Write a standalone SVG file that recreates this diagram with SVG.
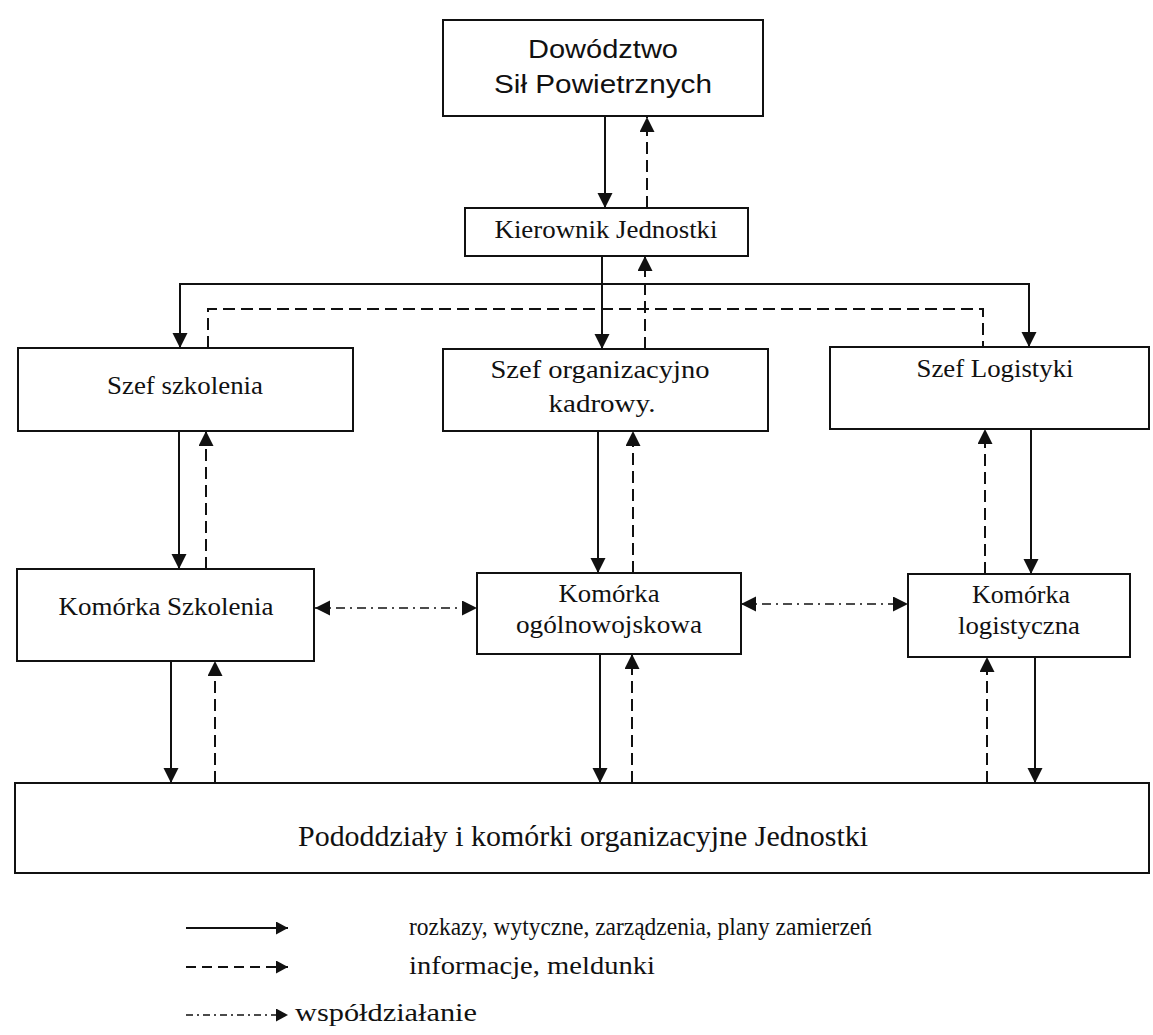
<svg xmlns="http://www.w3.org/2000/svg" width="1153" height="1035" viewBox="0 0 1153 1035">
  <style>
    .box { fill: #fff; stroke: #111; stroke-width: 2; }
    .t { font-family: "Liberation Serif", "Times New Roman", serif; font-size: 26px; fill: #111; text-anchor: middle; }
    .ts { font-family: "Liberation Sans", Arial, sans-serif; font-size: 26px; fill: #111; text-anchor: middle; }
    .tl { font-family: "Liberation Serif", "Times New Roman", serif; font-size: 26px; fill: #111; }
    .solid { fill: none; stroke: #111; stroke-width: 2; }
    .dash { fill: none; stroke: #111; stroke-width: 2; stroke-dasharray: 12 6; }
    .dashdot { fill: none; stroke: #111; stroke-width: 1.6; stroke-dasharray: 9 5 2 5; }
  </style>
  <defs>
    <marker id="arrow" markerUnits="userSpaceOnUse" markerWidth="16" markerHeight="16" refX="15" refY="7.5" orient="auto-start-reverse">
      <path d="M0,0 L15,7.5 L0,15 Z" fill="#111"/>
    </marker>
    <marker id="arrowSmall" markerUnits="userSpaceOnUse" markerWidth="13" markerHeight="14" refX="12" refY="6.5" orient="auto">
      <path d="M0,0 L12,6.5 L0,13 Z" fill="#111"/>
    </marker>
  </defs>
  <rect width="1153" height="1035" fill="#fff"/>

  <!-- connectors -->
  <g id="connectors">
    <!-- Dowództwo <-> Kierownik -->
    <line class="solid" x1="605" y1="117" x2="605" y2="208" marker-end="url(#arrow)"/>
    <line class="dash" x1="647" y1="208" x2="647" y2="117" marker-end="url(#arrow)"/>
    <!-- Kierownik -> Szef organizacyjno-kadrowy -->
    <line class="solid" x1="602" y1="256" x2="602" y2="349" marker-end="url(#arrow)"/>
    <line class="dash" x1="645" y1="349" x2="645" y2="256" marker-end="url(#arrow)"/>
    <!-- Kierownik -> Szef szkolenia / Szef Logistyki -->
    <polyline class="solid" points="180,348 180,284 1029,284 1029,347" marker-start="url(#arrow)" marker-end="url(#arrow)"/>
    <polyline class="dash" points="208,348 208,309 983,309 983,347"/>
    <!-- Szefowie <-> Komórki -->
    <line class="solid" x1="179" y1="431" x2="179" y2="569" marker-end="url(#arrow)"/>
    <line class="dash" x1="206" y1="569" x2="206" y2="431" marker-end="url(#arrow)"/>
    <line class="solid" x1="598" y1="431" x2="598" y2="573" marker-end="url(#arrow)"/>
    <line class="dash" x1="633" y1="573" x2="633" y2="431" marker-end="url(#arrow)"/>
    <line class="dash" x1="985" y1="574" x2="985" y2="429" marker-end="url(#arrow)"/>
    <line class="solid" x1="1031" y1="429" x2="1031" y2="574" marker-end="url(#arrow)"/>
    <!-- Komórki <-> Pododdziały -->
    <line class="solid" x1="171" y1="661" x2="171" y2="783" marker-end="url(#arrow)"/>
    <line class="dash" x1="215" y1="783" x2="215" y2="661" marker-end="url(#arrow)"/>
    <line class="solid" x1="600" y1="654" x2="600" y2="783" marker-end="url(#arrow)"/>
    <line class="dash" x1="632" y1="783" x2="632" y2="654" marker-end="url(#arrow)"/>
    <line class="dash" x1="987" y1="783" x2="987" y2="657" marker-end="url(#arrow)"/>
    <line class="solid" x1="1035" y1="657" x2="1035" y2="783" marker-end="url(#arrow)"/>
    <!-- współdziałanie -->
    <line class="dashdot" x1="315" y1="608" x2="477" y2="608" marker-start="url(#arrow)" marker-end="url(#arrow)"/>
    <line class="dashdot" x1="741" y1="604" x2="908" y2="604" marker-start="url(#arrow)" marker-end="url(#arrow)"/>
  </g>

  <!-- nodes -->
  <g id="dowodztwo">
    <rect class="box" x="443" y="20" width="320" height="96"/>
    <text class="ts" x="603" y="58" textLength="150" lengthAdjust="spacingAndGlyphs">Dowództwo</text>
    <text class="ts" x="603" y="93" textLength="218" lengthAdjust="spacingAndGlyphs">Sił Powietrznych</text>
  </g>
  <g id="kierownik">
    <rect class="box" x="465" y="208" width="283" height="48"/>
    <text class="t" x="606" y="238" textLength="223" lengthAdjust="spacingAndGlyphs">Kierownik Jednostki</text>
  </g>
  <g id="szef-szkolenia">
    <rect class="box" x="18" y="348" width="335" height="83"/>
    <text class="t" x="185" y="394" textLength="156" lengthAdjust="spacingAndGlyphs">Szef szkolenia</text>
  </g>
  <g id="szef-org">
    <rect class="box" x="443" y="349" width="325" height="82"/>
    <text class="t" x="600" y="378" textLength="219" lengthAdjust="spacingAndGlyphs">Szef organizacyjno</text>
    <text class="t" x="602" y="412" textLength="107" lengthAdjust="spacingAndGlyphs">kadrowy.</text>
  </g>
  <g id="szef-logistyki">
    <rect class="box" x="830" y="347" width="319" height="82"/>
    <text class="t" x="995" y="377" textLength="157" lengthAdjust="spacingAndGlyphs">Szef Logistyki</text>
  </g>
  <g id="komorka-szkolenia">
    <rect class="box" x="17" y="569" width="297" height="92"/>
    <text class="t" x="166" y="615" textLength="215" lengthAdjust="spacingAndGlyphs">Komórka Szkolenia</text>
  </g>
  <g id="komorka-ogolnowojskowa">
    <rect class="box" x="477" y="573" width="264" height="81"/>
    <text class="t" x="609" y="602" textLength="101" lengthAdjust="spacingAndGlyphs">Komórka</text>
    <text class="t" x="609" y="633" textLength="186" lengthAdjust="spacingAndGlyphs">ogólnowojskowa</text>
  </g>
  <g id="komorka-logistyczna">
    <rect class="box" x="908" y="574" width="222" height="83"/>
    <text class="t" x="1021" y="603" textLength="98" lengthAdjust="spacingAndGlyphs">Komórka</text>
    <text class="t" x="1019" y="634" textLength="122" lengthAdjust="spacingAndGlyphs">logistyczna</text>
  </g>
  <g id="pododdzialy">
    <rect class="box" x="15" y="783" width="1134" height="90"/>
    <text class="t" x="583" y="846" style="font-size:29px" textLength="570" lengthAdjust="spacingAndGlyphs">Pododdziały i komórki organizacyjne Jednostki</text>
  </g>

  <!-- legend -->
  <g id="legend">
    <line class="solid" x1="186" y1="928" x2="288" y2="928" marker-end="url(#arrowSmall)"/>
    <text class="tl" x="409" y="935" textLength="463" lengthAdjust="spacingAndGlyphs">rozkazy, wytyczne, zarządzenia, plany zamierzeń</text>
    <line class="dash" x1="186" y1="967" x2="288" y2="967" style="stroke-dasharray:10 6" marker-end="url(#arrowSmall)"/>
    <text class="tl" x="409" y="974" textLength="246" lengthAdjust="spacingAndGlyphs">informacje, meldunki</text>
    <line class="dashdot" x1="186" y1="1015" x2="288" y2="1015" style="stroke-dasharray:7 4 2 4" marker-end="url(#arrowSmall)"/>
    <text class="tl" x="295" y="1021" textLength="182" lengthAdjust="spacingAndGlyphs">współdziałanie</text>
  </g>
</svg>
